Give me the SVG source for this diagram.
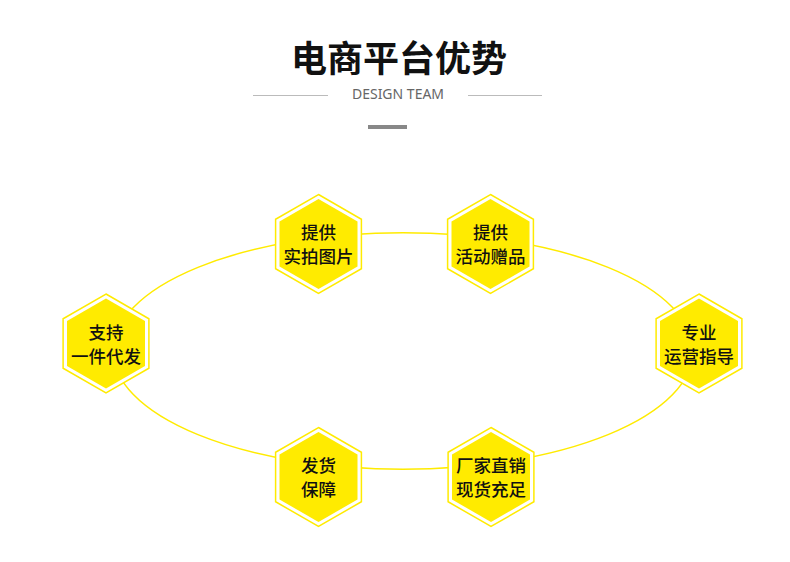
<svg xmlns="http://www.w3.org/2000/svg" xmlns:xlink="http://www.w3.org/1999/xlink" width="790" height="562" viewBox="0 0 790 562">
<style>
.title{font-family:"Noto Sans CJK SC","Noto Sans",sans-serif;font-weight:700;font-size:36px;fill:#111;text-anchor:middle}
.sub{font-family:"Noto Sans","Open Sans",sans-serif;font-size:14px;fill:#666;text-anchor:middle}
.lbl{font-family:"Noto Sans CJK SC","Noto Sans",sans-serif;font-weight:500;font-size:17.5px;fill:#111;text-anchor:middle}
.outer{fill:#fff;stroke:#FFEB00;stroke-width:1.5}
.inner{fill:#FFEB00}
.ring{fill:none;stroke:#FFEB00;stroke-width:1.5}
</style>
<defs>
<polygon id="hexO" points="0,-49.5 42.9,-24.75 42.9,24.75 0,49.5 -42.9,24.75 -42.9,-24.75"/>
<polygon id="hexI" points="0,-45 39,-22.5 39,22.5 0,45 -39,22.5 -39,-22.5"/>
</defs>
<rect width="790" height="562" fill="#fff"/>
<g id="header">
<text class="title" x="399" y="72">电商平台优势</text>
<text class="sub" x="398" y="99">DESIGN TEAM</text>
<line x1="253" y1="95.5" x2="328" y2="95.5" stroke="#bbb" stroke-width="1"/>
<line x1="468" y1="95.5" x2="542" y2="95.5" stroke="#bbb" stroke-width="1"/>
<rect x="368" y="125" width="39" height="4" fill="#888"/>
</g>
<g id="connectors">
<ellipse class="ring" cx="403" cy="351" rx="290" ry="118.3"/>
</g>
<g id="node-tl" transform="translate(318.5,244)">
<use href="#hexO" class="outer"/><use href="#hexI" class="inner"/>
<text class="lbl" x="0" y="-5">提供</text><text class="lbl" x="0" y="19">实拍图片</text>
</g>
<g id="node-tr" transform="translate(490.5,244)">
<use href="#hexO" class="outer"/><use href="#hexI" class="inner"/>
<text class="lbl" x="0" y="-5">提供</text><text class="lbl" x="0" y="19">活动赠品</text>
</g>
<g id="node-l" transform="translate(106,343.5)">
<use href="#hexO" class="outer"/><use href="#hexI" class="inner"/>
<text class="lbl" x="0" y="-5">支持</text><text class="lbl" x="0" y="19">一件代发</text>
</g>
<g id="node-r" transform="translate(699,343.5)">
<use href="#hexO" class="outer"/><use href="#hexI" class="inner"/>
<text class="lbl" x="0" y="-5">专业</text><text class="lbl" x="0" y="19">运营指导</text>
</g>
<g id="node-bl" transform="translate(318.5,477)">
<use href="#hexO" class="outer"/><use href="#hexI" class="inner"/>
<text class="lbl" x="0" y="-5">发货</text><text class="lbl" x="0" y="19">保障</text>
</g>
<g id="node-br" transform="translate(491,477)">
<use href="#hexO" class="outer"/><use href="#hexI" class="inner"/>
<text class="lbl" x="0" y="-5">厂家直销</text><text class="lbl" x="0" y="19">现货充足</text>
</g>
</svg>
